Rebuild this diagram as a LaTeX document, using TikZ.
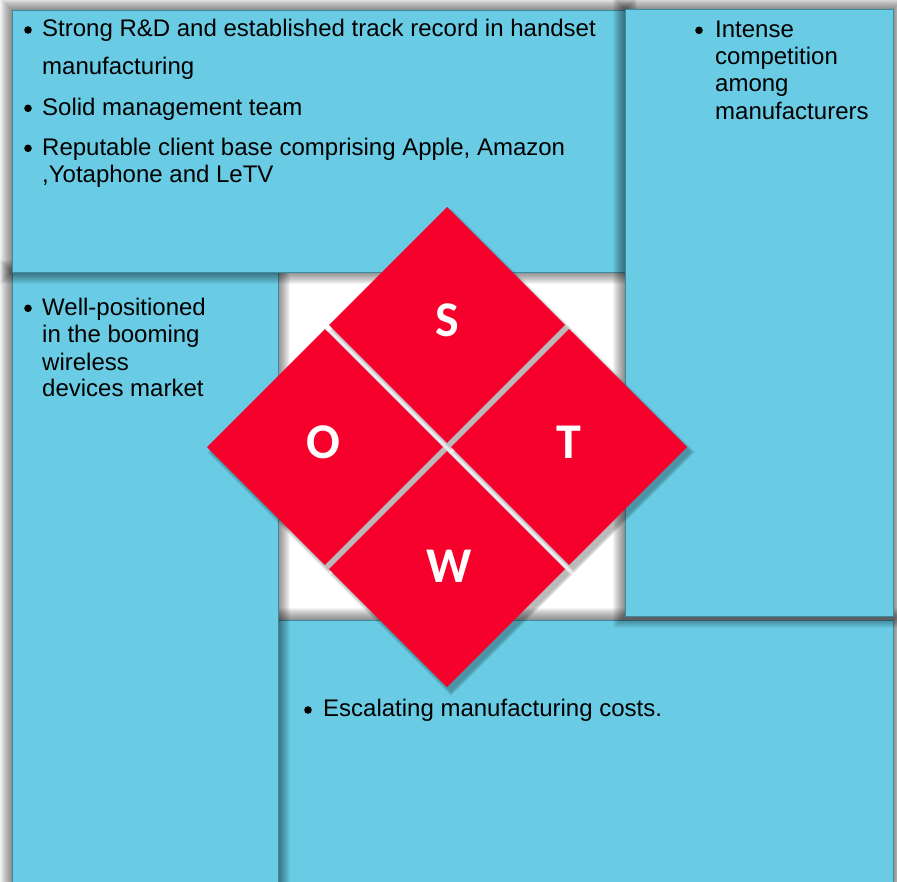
\documentclass[tikz,border=0pt]{standalone}
\usepackage{fontspec}
\setmainfont{Liberation Sans}
\newfontfamily\letterfont{Carlito}
\definecolor{panel}{RGB}{106,204,228}
\definecolor{paneledge}{RGB}{58,138,160}
\definecolor{swotred}{RGB}{246,0,44}

% soft shadow around a rectangle: x1 y1 x2 y2
\newcommand\softshadow[4]{%
  \foreach \i in {1,...,12}{%
    \fill[black, opacity=0.045] ({#1-\i},{#2-\i}) rectangle ({#3+\i},{#4+\i});}}
% rotated square tile: centre x, centre y, half diagonal, style
\newcommand\tile[4]{%
  \fill[#4] ({#1},{#2-(#3)}) -- ({#1+(#3)},{#2}) -- ({#1},{#2+(#3)})
    -- ({#1-(#3)},{#2}) -- cycle;}

\begin{document}
\begin{tikzpicture}[x=1pt,y=-1pt,
  panelbox/.style={fill=panel, draw=paneledge, line width=1pt},
  item/.style={anchor=base west, inner sep=0pt, font=\fontsize{24}{28}\selectfont},
  dot/.style={circle, fill=black, inner sep=0pt, minimum size=7.6pt},
  letter/.style={anchor=base, inner sep=0pt, text=white,
    font=\letterfont\bfseries\fontsize{50}{50}\selectfont}]

\useasboundingbox (0,0) rectangle (897,881);
\clip (0,0) rectangle (897,881);
\fill[white] (0,0) rectangle (897,881);

% the four panels, each with a soft shadow
\softshadow{278}{620}{893}{900}
\draw[panelbox] (278,620) rectangle (893,900);
\softshadow{12}{272}{278}{900}
\draw[panelbox] (12,272) rectangle (278,900);
\softshadow{12}{10}{625}{272}
\draw[panelbox] (12,10) rectangle (625,272);
\softshadow{625}{9}{893}{616}
\draw[panelbox] (625,9) rectangle (893,616);

% shadows of the four tiles
\foreach \k in {0,...,4}{%
  \tile{451}{329.9}{117.9+\k}{black, opacity=0.06}
  \tile{573.1}{452}{117.9+\k}{black, opacity=0.06}
  \tile{451}{574.1}{117.9+\k}{black, opacity=0.06}
  \tile{328.9}{452}{117.9+\k}{black, opacity=0.06}
}
% the four tiles
\tile{447}{324.9}{117.9}{swotred}
\tile{569.1}{447}{117.9}{swotred}
\tile{447}{569.1}{117.9}{swotred}
\tile{324.9}{447}{117.9}{swotred}

\node[letter] (ls) at (447,336) {S};
\node[letter] (lo) at (323,458) {O};
\node[letter] (lt) at (569,458) {T};
\node[letter] (lw) at (449,582) {W};

% strengths
\node[dot] (sb1) at (28,30) {};
\node[item] (s1a) at (42,36.7) {Strong R\&D and established track record in handset};
\node[item] (s1b) at (42,74) {manufacturing};
\node[dot] (sb2) at (28,108.3) {};
\node[item] (s2) at (42,115) {Solid management team};
\node[dot] (sb3) at (28,148.3) {};
\node[item] (s3a) at (42,155) {Reputable client base comprising Apple, Amazon};
\node[item] (s3b) at (42,182.7) {,Yotaphone and LeTV};

% threats
\node[dot] (tb1) at (699,30.3) {};
\node[item] (t1a) at (715,37) {Intense};
\node[item] (t1b) at (715,64.3) {competition};
\node[item] (t1c) at (715,91.3) {among};
\node[item] (t1d) at (715,119) {manufacturers};

% opportunities
\node[dot] (ob1) at (28,308.3) {};
\node[item] (o1a) at (42,315) {Well-positioned};
\node[item] (o1b) at (42,342.3) {in the booming};
\node[item] (o1c) at (42,370) {wireless};
\node[item] (o1d) at (42,396.7) {devices market};

% weaknesses
\node[dot] (wb1) at (308,710) {};
\node[item] (w1) at (323,716.7) {Escalating manufacturing costs.};
\end{tikzpicture}
\end{document}
